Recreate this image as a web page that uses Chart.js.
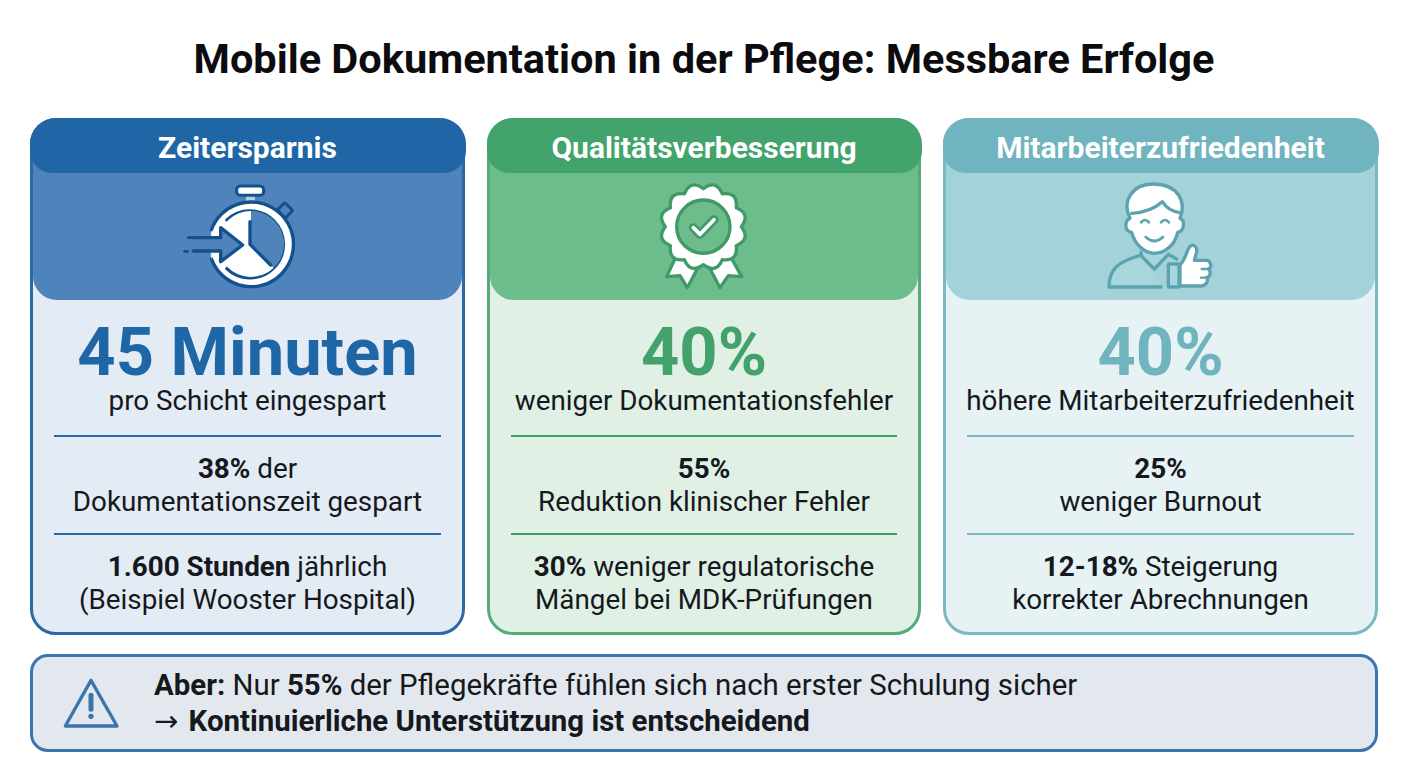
<!DOCTYPE html>
<html lang="de"><head><meta charset="utf-8">
<script src="https://cdn.jsdelivr.net/npm/chart.js@4"></script>
<style>
html,body{margin:0;padding:0;background:#fff;width:1408px;height:768px;overflow:hidden;font-family:Roboto,sans-serif;color:#15181c}
#title{position:absolute;left:0;width:1408px;top:34px;line-height:50px;text-align:center;font-size:41.5px;font-weight:700;color:#0c0c0e}
.card{position:absolute;top:118px;height:517px;box-sizing:border-box;border:3.5px solid;border-radius:26px}
.panel{position:absolute;left:0;right:0;top:0;height:179px;border-radius:20px 20px 24px 24px}
.head{position:absolute;left:-3.5px;right:-3.5px;top:-3.5px;height:55.5px;border-radius:26px 26px 22px 22px;text-align:center;color:#fff;font-weight:700;font-size:30px;line-height:59.5px}
.t{position:absolute;white-space:nowrap;text-align:center;transform:translate(-50%,-50%)}
.big{font-weight:700;font-size:66.8px;line-height:56px}
.l{font-size:27.8px;line-height:30px}
.rule{position:absolute;height:2px}
svg,canvas{position:absolute}
b{font-weight:700}
#note{position:absolute;left:30px;top:654px;width:1348px;height:98px;box-sizing:border-box;border:3.5px solid #3a76ab;border-radius:18px;background:#e3e7ee}
.n{position:absolute;left:154px;white-space:nowrap;font-size:29.4px;line-height:32px;transform:translateY(-50%)}
.arr{font-family:"DejaVu Sans";font-weight:400;font-size:29px;margin-right:3px}
</style></head><body>
<div id="title"></div>
<div id="cards"></div>
<div id="note"></div>
<div id="texts"></div>
<svg style="left:20px;top:105px;z-index:3" width="460" height="210" viewBox="0 0 1380 630" fill="none" stroke-linecap="round" stroke-linejoin="round">
 <path d="M678 272h27v24h-27z" fill="#b9cde2"/>
 <rect x="650" y="243" width="81" height="28" rx="11" fill="#fff" stroke="#14508c" stroke-width="9"/>
 <g transform="rotate(45 795 316)"><rect x="778" y="300" width="34" height="32" rx="4" fill="#4f83bc" stroke="#14508c" stroke-width="9"/></g>
 <path d="M574 375A127 127 0 1 1 574 461" fill="#fff" stroke="#14508c" stroke-width="10"/>
 <path d="M574 380L574 460" stroke="#fff" stroke-width="2"/>
 <path d="M620 345A101 101 0 1 1 620 491" stroke="#14508c" stroke-width="9" fill="#4f83bc"/>
</svg>
<canvas id="pie" width="66" height="66" style="left:218px;top:211px;width:66px;height:66px;z-index:4"></canvas>
<svg style="left:20px;top:105px;z-index:5" width="460" height="210" viewBox="0 0 1380 630" fill="none" stroke-linecap="round" stroke-linejoin="round">
 <path d="M690 350V418L752 480" stroke="#14508c" stroke-width="10"/>
 <path d="M520 398H602V368L668 420L602 470V438H520" fill="#4f83bc" stroke="#14508c" stroke-width="10"/>
 <path d="M505 398h18M543 398h10M493 439h10" stroke="#14508c" stroke-width="8"/>
</svg>
<svg id="rosette" style="left:480px;top:105px;z-index:3" width="450" height="210" viewBox="0 0 1350 630" stroke-linejoin="round" stroke-linecap="round">
 <g fill="#fff" stroke="#3f9a68" stroke-width="10">
  <path d="M588 455L560 515L600 512L622 548L658 480z"/>
  <path d="M752 455L785 515L745 512L720 548L684 480z"/>
  <path id="scallop" d=""/>
  <circle cx="670" cy="365" r="80" fill="#6dbc8b"/>
  <path d="M640 368L660 388L702 344" fill="none" stroke-width="27"/>
  <path d="M640 368L660 388L702 344" fill="none" stroke="#fff" stroke-width="11"/>
 </g>
</svg>
<svg style="left:935px;top:105px;z-index:3" width="450" height="210" viewBox="0 0 1350 630" fill="none" stroke="#5ca3b0" stroke-width="10" stroke-linecap="round" stroke-linejoin="round">
 <path d="M618 442V452L658 492L700 448M620 450C550 470 522 490 522 546H678M700 448L725 462" fill="#a9d6dc"/>
 <path d="M585 340C570 345 565 378 590 382C600 420 630 445 658 445C690 445 720 420 728 382C750 378 750 345 735 340C755 290 730 238 655 237C590 237 560 290 585 340z" fill="#fff"/>
 <path d="M590 325C630 322 660 310 682 290C695 310 715 320 732 322"/>
 <path d="M618 352Q630 338 642 352M678 352Q690 338 702 352M632 396Q658 420 684 396" stroke-width="8"/>
 <rect x="700" y="477" width="32" height="69" rx="3" fill="#a9d6dc"/>
 <path d="M735 480C750 465 755 440 762 428C772 412 790 425 784 445L778 466H815C830 468 830 490 820 492C830 500 825 516 815 518C822 528 812 542 800 543H735z" fill="#fff"/>
 <path d="M800 492H820M798 518H815" stroke-width="7"/>
</svg>
<svg style="left:20px;top:600px;z-index:3" width="500" height="165" viewBox="0 0 1500 495" fill="none" stroke="#3a76ab" stroke-linecap="round" stroke-linejoin="round">
 <path d="M213 241L291 378H136z" stroke-width="10"/>
 <path d="M213 286V328" stroke-width="15"/>
 <circle cx="213" cy="349" r="6" fill="#3a76ab" stroke-width="4"/>
</svg>
<script>
const chartTitle = "Mobile Dokumentation in der Pflege: Messbare Erfolge";
const categories = ["Zeitersparnis", "Qualitätsverbesserung", "Mitarbeiterzufriedenheit"];
const headlines = ["45 Minuten", "40%", "40%"];
const subLabels = ["pro Schicht eingespart", "weniger Dokumentationsfehler", "höhere Mitarbeiterzufriedenheit"];
const secondLines = [
  ["<b>38%</b> der", "Dokumentationszeit gespart"],
  ["<b>55%</b>", "Reduktion klinischer Fehler"],
  ["<b>25%</b>", "weniger Burnout"]];
const thirdLines = [
  ["<b>1.600 Stunden</b> jährlich", "(Beispiel Wooster Hospital)"],
  ["<b>30%</b> weniger regulatorische", "Mängel bei MDK-Prüfungen"],
  ["<b>12-18%</b> Steigerung", "korrekter Abrechnungen"]];
const noteLines = ["<b>Aber:</b> Nur <b>55%</b> der Pflegekräfte fühlen sich nach erster Schulung sicher",
  "<span class=\"arr\">→</span> <b>Kontinuierliche Unterstützung ist entscheidend</b>"];
const savedShare = [38, 62];
const cardLeft = [30, 487, 943], cardWidth = [435, 434, 435];
const headColor = ["#2066a6", "#42a36c", "#70b4c0"];
const panelColor = ["#4f83bc", "#6dbc8b", "#a3d2d8"];
const bodyColor = ["#e3ebf4", "#e0f0e5", "#e6f2f4"];
const borderColor = ["#2a69a5", "#55ab78", "#7ab8c3"];
const bigColor = ["#1f66a6", "#43a26c", "#70b4c0"];
const ruleColor = ["#2a69a5", "#3f9a68", "#7ab8c3"];

document.getElementById('title').textContent = chartTitle;
const cards = document.getElementById('cards'), texts = document.getElementById('texts');
function line(html, cx, cy, cls, color){
  const d = document.createElement('div'); d.className = 't ' + cls;
  d.style.left = cx + 'px'; d.style.top = cy + 'px'; if(color) d.style.color = color;
  d.innerHTML = html; texts.appendChild(d);
}
categories.forEach((name, i) => {
  const c = document.createElement('div'); c.className = 'card';
  c.style.cssText = `left:${cardLeft[i]}px;width:${cardWidth[i]}px;border-color:${borderColor[i]};background:${bodyColor[i]}`;
  c.innerHTML = `<div class="panel" style="background:${panelColor[i]}"></div><div class="head" style="background:${headColor[i]}">${name}</div>`;
  cards.appendChild(c);
  const cx = cardLeft[i] + cardWidth[i] / 2;
  [436, 534].forEach(y => {
    const r = document.createElement('div'); r.className = 'rule';
    r.style.cssText = `left:${cardLeft[i]+24}px;width:${cardWidth[i]-48}px;top:${y-1}px;background:${ruleColor[i]}`;
    texts.appendChild(r);
  });
  line(headlines[i], cx, 352, 'big', bigColor[i]);
  line(subLabels[i], cx, 401, 'l');
  line(secondLines[i][0], cx, 469, 'l'); line(secondLines[i][1], cx, 502, 'l');
  line(thirdLines[i][0], cx, 567, 'l'); line(thirdLines[i][1], cx, 600, 'l');
});
noteLines.forEach((h, i) => {
  const d = document.createElement('div'); d.className = 'n'; d.style.top = (685 + i * 36) + 'px';
  d.innerHTML = h; texts.appendChild(d);
});
// rosette outline
(function(){
  let n = 12, cx = 670, cy = 365;
  let d = '';
  for (let k = 0; k < n; k++) {
    const a = (k / n) * 2 * Math.PI - Math.PI / 2, b = ((k + .5) / n) * 2 * Math.PI - Math.PI / 2, e = ((k + 1) / n) * 2 * Math.PI - Math.PI / 2;
    const P = (t, r) => (cx + r * Math.cos(t)).toFixed(1) + ' ' + (cy + r * Math.sin(t)).toFixed(1);
    if (k === 0) d += 'M' + P(a, 114);
    d += 'Q' + P(b, 148) + ' ' + P(e, 114);
  }
  document.getElementById('scallop').setAttribute('d', d + 'z');
})();
new Chart(document.getElementById('pie'), {
  type: 'pie',
  data: { labels: ['gespart', 'verbleibend'], datasets: [{ data: savedShare, backgroundColor: ['#4f83bc', '#ffffff'], borderWidth: 0 }] },
  options: { responsive: false, animation: false, devicePixelRatio: 1, layout: { padding: 0 },
    plugins: { legend: { display: false }, tooltip: { enabled: false } } }
});
</script>
</body></html>
